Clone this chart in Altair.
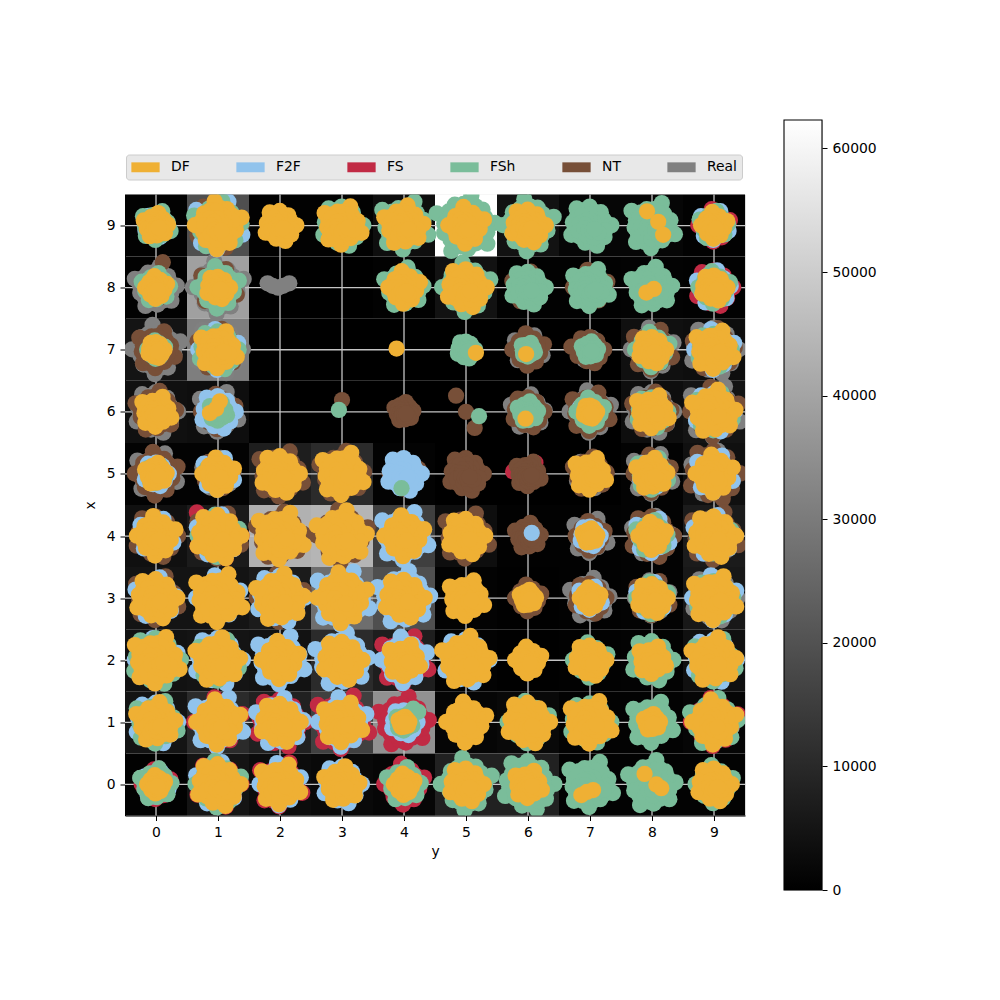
import altair as alt
import pandas as pd

alt.data_transformers.disable_max_rows()

NAMES = ["DF", "F2F", "FS", "FSh", "NT", "Real"]
COLORS = ["#EFB034", "#91C3EC", "#C12A44", "#7ABD9A", "#774F38", "#808080"]
DRAW_ORDER = ["Real", "FS", "NT", "F2F", "FSh", "DF"]
TICKS = [0, 1, 2, 3, 4, 5, 6, 7, 8, 9]
BAR_TICKS = [0, 10000, 20000, 30000, 40000, 50000, 60000]
VMAX = 62300

# heat values, rows listed for x = 9 down to 0, columns y = 0..9
HEAT = [
    [300, 21000, 300, 300, 2500, 62300, 3500, 1000, 1000, 300],
    [300, 41000, 0, 0, 300, 3500, 300, 300, 500, 300],
    [4000, 33000, 0, 0, 0, 0, 0, 0, 3000, 2500],
    [3000, 2500, 0, 0, 0, 0, 0, 0, 2500, 4000],
    [500, 500, 7000, 11000, 500, 0, 0, 0, 500, 3000],
    [3000, 6000, 45000, 46000, 16600, 2500, 300, 300, 500, 6000],
    [4000, 4000, 6000, 29000, 21000, 500, 100, 300, 500, 5000],
    [3500, 4000, 3500, 11000, 7000, 500, 100, 300, 500, 3000],
    [4000, 11000, 8000, 17000, 37600, 1000, 1500, 500, 500, 1000],
    [300, 4000, 2000, 1500, 1000, 8000, 8000, 500, 500, 500],
]

# blob radius as percent of a cell, same row/column order; 0 = no blob
R_DF = [
    [33, 49, 38, 43, 44, 41, 40, 0, 0, 34],
    [31, 32, 0, 0, 38, 44, 0, 0, 0, 34],
    [27, 42, 0, 0, 0, 0, 0, 0, 35, 43],
    [37, 0, 0, 0, 0, 0, 0, 25, 39, 47],
    [31, 38, 43, 46, 0, 0, 0, 38, 38, 42],
    [43, 48, 49, 52, 44, 42, 0, 26, 35, 46],
    [45, 50, 50, 51, 44, 41, 27, 30, 37, 47],
    [49, 48, 42, 44, 38, 50, 34, 38, 35, 48],
    [44, 47, 44, 44, 23, 44, 46, 46, 27, 47],
    [28, 47, 44, 41, 30, 40, 35, 0, 0, 40],
]
R_FSH = [
    [36, 50, 0, 45, 50, 58, 52, 45, 48, 36],
    [36, 45, 0, 0, 44, 50, 40, 42, 45, 38],
    [28, 44, 0, 0, 0, 28, 25, 27, 40, 40],
    [30, 28, 0, 0, 0, 0, 30, 35, 38, 42],
    [28, 32, 0, 0, 0, 0, 0, 0, 38, 0],
    [30, 45, 0, 0, 0, 0, 0, 0, 38, 40],
    [0, 0, 0, 0, 0, 0, 0, 0, 38, 42],
    [50, 45, 0, 0, 0, 0, 0, 40, 45, 46],
    [46, 0, 0, 0, 27, 0, 45, 45, 45, 50],
    [38, 48, 30, 0, 40, 52, 52, 48, 50, 42],
]
R_F2F = [
    [32, 50, 0, 0, 0, 0, 0, 0, 0, 36],
    [30, 0, 0, 0, 0, 0, 0, 0, 0, 40],
    [0, 44, 0, 0, 0, 0, 0, 0, 0, 44],
    [0, 40, 0, 0, 0, 0, 0, 30, 0, 44],
    [33, 38, 0, 0, 40, 0, 0, 30, 34, 42],
    [40, 46, 0, 0, 50, 0, 0, 30, 40, 45],
    [45, 47, 50, 54, 54, 0, 0, 32, 38, 47],
    [46, 50, 50, 54, 48, 48, 0, 0, 0, 47],
    [46, 51, 50, 50, 34, 0, 0, 0, 0, 0],
    [33, 47, 45, 43, 0, 0, 0, 0, 0, 0],
]
R_FS = [
    [0, 0, 0, 0, 0, 0, 0, 0, 0, 38],
    [0, 0, 0, 0, 0, 0, 0, 0, 0, 42],
    [0, 0, 0, 0, 0, 0, 0, 0, 0, 0],
    [0, 0, 0, 0, 0, 0, 0, 0, 0, 0],
    [0, 0, 0, 0, 0, 0, 0, 30, 38, 0],
    [0, 48, 0, 0, 0, 0, 0, 0, 0, 0],
    [0, 0, 0, 0, 0, 0, 0, 0, 0, 0],
    [0, 0, 0, 0, 50, 42, 0, 34, 0, 0],
    [0, 50, 51, 54, 52, 42, 0, 40, 0, 49],
    [36, 48, 47, 0, 44, 0, 0, 0, 0, 0],
]
R_NT = [
    [0, 48, 0, 0, 0, 0, 0, 0, 0, 0],
    [30, 42, 0, 0, 0, 0, 38, 40, 0, 0],
    [42, 45, 0, 0, 0, 0, 38, 35, 44, 46],
    [45, 40, 0, 0, 29, 0, 38, 43, 44, 50],
    [46, 36, 48, 48, 36, 40, 33, 40, 42, 52],
    [46, 48, 50, 52, 0, 48, 34, 36, 46, 50],
    [47, 0, 49, 0, 0, 0, 34, 38, 40, 0],
    [0, 0, 0, 0, 0, 0, 0, 0, 0, 0],
    [0, 0, 0, 0, 0, 0, 0, 0, 0, 0],
    [0, 0, 0, 0, 0, 0, 0, 0, 0, 0],
]
R_REAL = [
    [0, 0, 0, 0, 0, 0, 0, 0, 0, 36],
    [46, 52, 0, 0, 0, 0, 0, 0, 0, 0],
    [50, 50, 0, 0, 0, 0, 36, 32, 46, 50],
    [46, 44, 0, 0, 0, 0, 40, 45, 46, 52],
    [45, 38, 0, 0, 0, 0, 0, 36, 44, 48],
    [0, 0, 0, 0, 0, 0, 0, 40, 44, 0],
    [0, 0, 0, 0, 0, 0, 0, 44, 40, 48],
    [0, 0, 0, 0, 0, 0, 0, 0, 0, 0],
    [0, 0, 0, 0, 0, 0, 0, 0, 0, 0],
    [38, 0, 0, 0, 0, 0, 0, 0, 0, 0],
]
RADII = {"DF": R_DF, "F2F": R_F2F, "FS": R_FS, "FSh": R_FSH, "NT": R_NT, "Real": R_REAL}

# individually placed markers of the sparse cells: (y, x)
EXTRA_DF = [(3.88, 7.02), (5.16, 6.95), (5.97, 6.93), (1.03, 6.17), (0.87, 5.98), (0.97, 6.05),
            (5.96, 5.89), (7.92, 9.23), (8.10, 9.06), (8.18, 8.85), (7.91, 7.92), (8.03, 7.98),
            (7.88, 0.17), (8.07, 0.0), (8.15, -0.06), (6.86, -0.17), (7.05, -0.09), (6.95, -0.12)]
EXTRA_FSH = [(2.95, 6.03), (5.21, 5.93), (3.96, 4.77), (4.23, 1.17), (4.15, 1.22)]
EXTRA_F2F = [(6.06, 4.05)]
EXTRA_NT = [(3.0, 6.19), (0.11, 8.41), (4.84, 6.26), (5.0, 6.0), (5.14, 5.74), (6.70, 7.05)]
EXTRA_REAL = [(1.80, 8.07), (1.88, 8.03), (1.97, 8.0), (2.05, 8.03), (2.15, 8.07)]
EXTRA_FS = [(0.66, 4.38), (6.12, 5.18), (5.76, 5.04)]
EXTRAS = {"DF": EXTRA_DF, "F2F": EXTRA_F2F, "FS": EXTRA_FS, "FSh": EXTRA_FSH, "NT": EXTRA_NT, "Real": EXTRA_REAL}

# hand-drawn lump outlines that the markers of a blob follow
LUMPS = [
    [(1.08, 0.1), (0.62, 0.6), (0.2, 1.12), (-0.42, 0.78), (-1.1, 0.46), (-0.82, -0.28), (-0.55, -0.95), (0.08, -0.88), (0.8, -0.68)],
    [(0.85, -0.22), (1.12, 0.38), (0.42, 0.78), (-0.16, 1.15), (-0.66, 0.58), (-1.1, 0.02), (-0.58, -0.68), (-0.06, -1.12), (0.55, -0.82)],
    [(1.15, 0.02), (0.58, 0.72), (-0.02, 1.02), (-0.72, 0.92), (-0.92, 0.18), (-1.0, -0.5), (-0.26, -0.92), (0.38, -1.08), (0.78, -0.62)],
    [(0.9, 0.26), (0.48, 1.1), (-0.26, 0.8), (-1.0, 0.72), (-0.85, -0.1), (-0.78, -0.8), (-0.05, -1.1), (0.5, -0.72), (1.12, -0.42)],
]
INNER_RINGS = [0.6, 0.3]
NOTCH = 0.85

rows = []
for idx, name in enumerate(DRAW_ORDER):
    table = RADII[name]
    for i, line in enumerate(table):
        row = 9 - i
        for col, r in enumerate(line):
            if r <= 0:
                continue
            s = max(r - 15, 1) / 100
            pattern = LUMPS[(row * 3 + col + idx) % 4]
            rows.append({"y": col, "x": row, "s": name})
            for k, (dx, dy) in enumerate(pattern):
                nx, ny = pattern[(k + 1) % len(pattern)]
                rows.append({"y": col + s * dx, "x": row + s * dy, "s": name})
                rows.append({"y": col + NOTCH * s * (dx + nx) / 2, "x": row + NOTCH * s * (dy + ny) / 2, "s": name})
                for ring in INNER_RINGS:
                    rows.append({"y": col + ring * s * dx, "x": row + ring * s * dy, "s": name})
    for c, r in EXTRAS[name]:
        rows.append({"y": c, "x": r, "s": name})
points = pd.DataFrame(rows)

cells = pd.DataFrame([
    {"y0": col - 0.5, "y1": col + 0.5, "x0": 9 - i - 0.5, "x1": 9 - i + 0.5, "v": v}
    for i, line in enumerate(HEAT) for col, v in enumerate(line)
])
grid = pd.DataFrame({"t": TICKS})

xs = alt.Scale(domain=[-0.5, 9.5], nice=False, zero=False)
ys = alt.Scale(domain=[-0.5, 9.5], nice=False, zero=False)
ax = dict(values=TICKS, grid=False, format="d", labelFontSize=13.9, titleFontSize=13.9,
          labelFont="DejaVu Sans", titleFont="DejaVu Sans", titleFontWeight="normal",
          tickSize=5, tickColor="#000", domainColor="#000", labelColor="#000", titleColor="#000",
          labelPadding=5, labelAngle=0)

heat = alt.Chart(cells).mark_rect(stroke=None).encode(
    x=alt.X("y0:Q", scale=xs, title="y", axis=alt.Axis(**ax, titlePadding=5)),
    x2="y1:Q",
    y=alt.Y("x0:Q", scale=ys, title="x", axis=alt.Axis(**ax, titlePadding=9)),
    y2="x1:Q",
    color=alt.Color("v:Q", scale=alt.Scale(domain=[0, VMAX], range=["#000000", "#ffffff"]), legend=None),
)
vgrid = alt.Chart(grid).mark_rule(color="#c4c4c4", strokeWidth=1.3).encode(x=alt.X("t:Q", scale=xs))
hgrid = alt.Chart(grid).mark_rule(color="#c4c4c4", strokeWidth=1.3).encode(y=alt.Y("t:Q", scale=ys))
dots = alt.Chart(points).mark_circle(size=264, opacity=1, clip=True).encode(
    x=alt.X("y:Q", scale=xs),
    y=alt.Y("x:Q", scale=ys),
    color=alt.Color("s:N", scale=alt.Scale(domain=NAMES, range=COLORS), legend=alt.Legend(
        orient="none", legendX=1, legendY=-40, direction="horizontal", columns=6, title=None,
        symbolType="M-2,-0.7H2V0.7H-2Z", symbolSize=200, symbolOffset=7, symbolStrokeWidth=0, symbolOpacity=1,
        fillColor="#e8e8e8", strokeColor="#cccccc", cornerRadius=3, padding=5,
        columnPadding=46, gridAlign="each", labelFontSize=13.9, labelFont="DejaVu Sans",
        labelColor="#000", labelOffset=18)),
)
main = alt.layer(heat, vgrid, hgrid, dots).resolve_scale(color="independent").properties(width=620, height=621)

bar_data = pd.DataFrame({"lo": [0], "hi": [VMAX]})
bar = alt.Chart(bar_data).mark_rect(stroke="#000000", strokeWidth=1.1, color=alt.Gradient(
    gradient="linear", x1=0, x2=0, y1=1, y2=0,
    stops=[alt.GradientStop(color="#000000", offset=0), alt.GradientStop(color="#ffffff", offset=1)]
)).encode(
    y=alt.Y("lo:Q", scale=alt.Scale(domain=[0, VMAX], nice=False), title=None,
            axis=alt.Axis(orient="right", values=BAR_TICKS, grid=False, format="d", labelFontSize=13.9,
                          labelFont="DejaVu Sans", tickSize=5, tickColor="#000", labelColor="#000",
                          labelPadding=5, domain=False)),
    y2="hi:Q",
).properties(width=38, height=770)

chart = alt.hconcat(main, bar, spacing=39, bounds="flush", center=True).properties(
    padding={"left": 74, "top": 110, "right": 5, "bottom": 5}
).configure_view(stroke=None).configure(background="#ffffff")

chart.save("out.html", embed_options={"renderer": "svg", "actions": False})
